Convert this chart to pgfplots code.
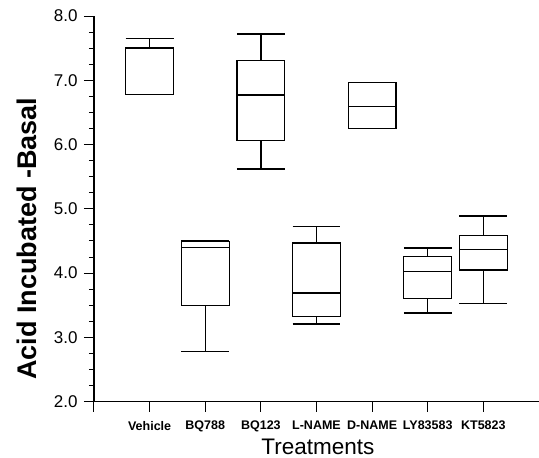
\documentclass[border=0pt]{standalone}
\usepackage{fontspec}
\setmainfont{Liberation Sans}
\usepackage{pgfplots}
\pgfplotsset{compat=1.18}
\usepgfplotslibrary{statistics}
\begin{document}
\begin{tikzpicture}
\useasboundingbox (0,0) rectangle (539pt,458pt);
\fill[white] (0,0) rectangle (539pt,458pt);
\begin{axis}[
  at={(94pt,56.3pt)}, anchor=south west,
  scale only axis, width=445pt, height=385.7pt,
  xmin=0, xmax=8, ymin=2, ymax=8,
  axis x line*=bottom, axis y line*=left,
  axis line style={-, line width=1.2pt},
  xtick={0,1,2,3,4,5,6,7},
  xticklabels={,Vehicle,BQ788,BQ123,L-NAME,D-NAME,LY83583,KT5823},
  ytick={2,3,4,5,6,7,8},
  minor y tick num=3,
  tick align=outside,
  major tick length=10pt, minor tick length=5pt,
  tick style={line width=1pt, black},
  yticklabel style={/pgf/number format/fixed, /pgf/number format/precision=1, /pgf/number format/fixed zerofill, font=\fontsize{17}{17}\selectfont, xshift=-3pt},
  /pgf/number format/assume math mode=true,
  xticklabel style={font=\bfseries\fontsize{12.5}{13}\selectfont, yshift=-6pt},
  xlabel={Treatments}, ylabel={\bfseries Acid Incubated -Basal},
  every axis x label/.style={at={(axis description cs:0.503,-0.117)}, anchor=center, font=\fontsize{22.5}{23}\selectfont},
  every axis y label/.style={at={(axis description cs:-0.1506,0.423)}, rotate=90, anchor=center, font=\fontsize{27}{28}\selectfont},
  boxplot/draw direction=y,
  boxplot/box extend=0.86,
  boxplot/whisker extend=0.86,
]
\addplot[black, line width=1.3pt, boxplot prepared={draw position=1, lower whisker=6.78, lower quartile=6.78, median=7.50, upper quartile=7.50, upper whisker=7.65}] coordinates {};
\addplot[black, line width=1.3pt, boxplot prepared={draw position=2, lower whisker=2.78, lower quartile=3.50, median=4.40, upper quartile=4.49, upper whisker=4.50}] coordinates {};
\addplot[black, line width=1.3pt, boxplot prepared={draw position=3, lower whisker=5.62, lower quartile=6.06, median=6.77, upper quartile=7.31, upper whisker=7.72}] coordinates {};
\addplot[black, line width=1.3pt, boxplot prepared={draw position=4, lower whisker=3.21, lower quartile=3.33, median=3.69, upper quartile=4.47, upper whisker=4.72}] coordinates {};
\addplot[black, line width=1.3pt, boxplot prepared={draw position=5, lower whisker=6.25, lower quartile=6.25, median=6.59, upper quartile=6.97, upper whisker=6.97}] coordinates {};
\addplot[black, line width=1.3pt, boxplot prepared={draw position=6, lower whisker=3.38, lower quartile=3.60, median=4.02, upper quartile=4.26, upper whisker=4.39}] coordinates {};
\addplot[black, line width=1.3pt, boxplot prepared={draw position=7, lower whisker=3.53, lower quartile=4.05, median=4.37, upper quartile=4.58, upper whisker=4.89}] coordinates {};
\end{axis}
\end{tikzpicture}
\end{document}
